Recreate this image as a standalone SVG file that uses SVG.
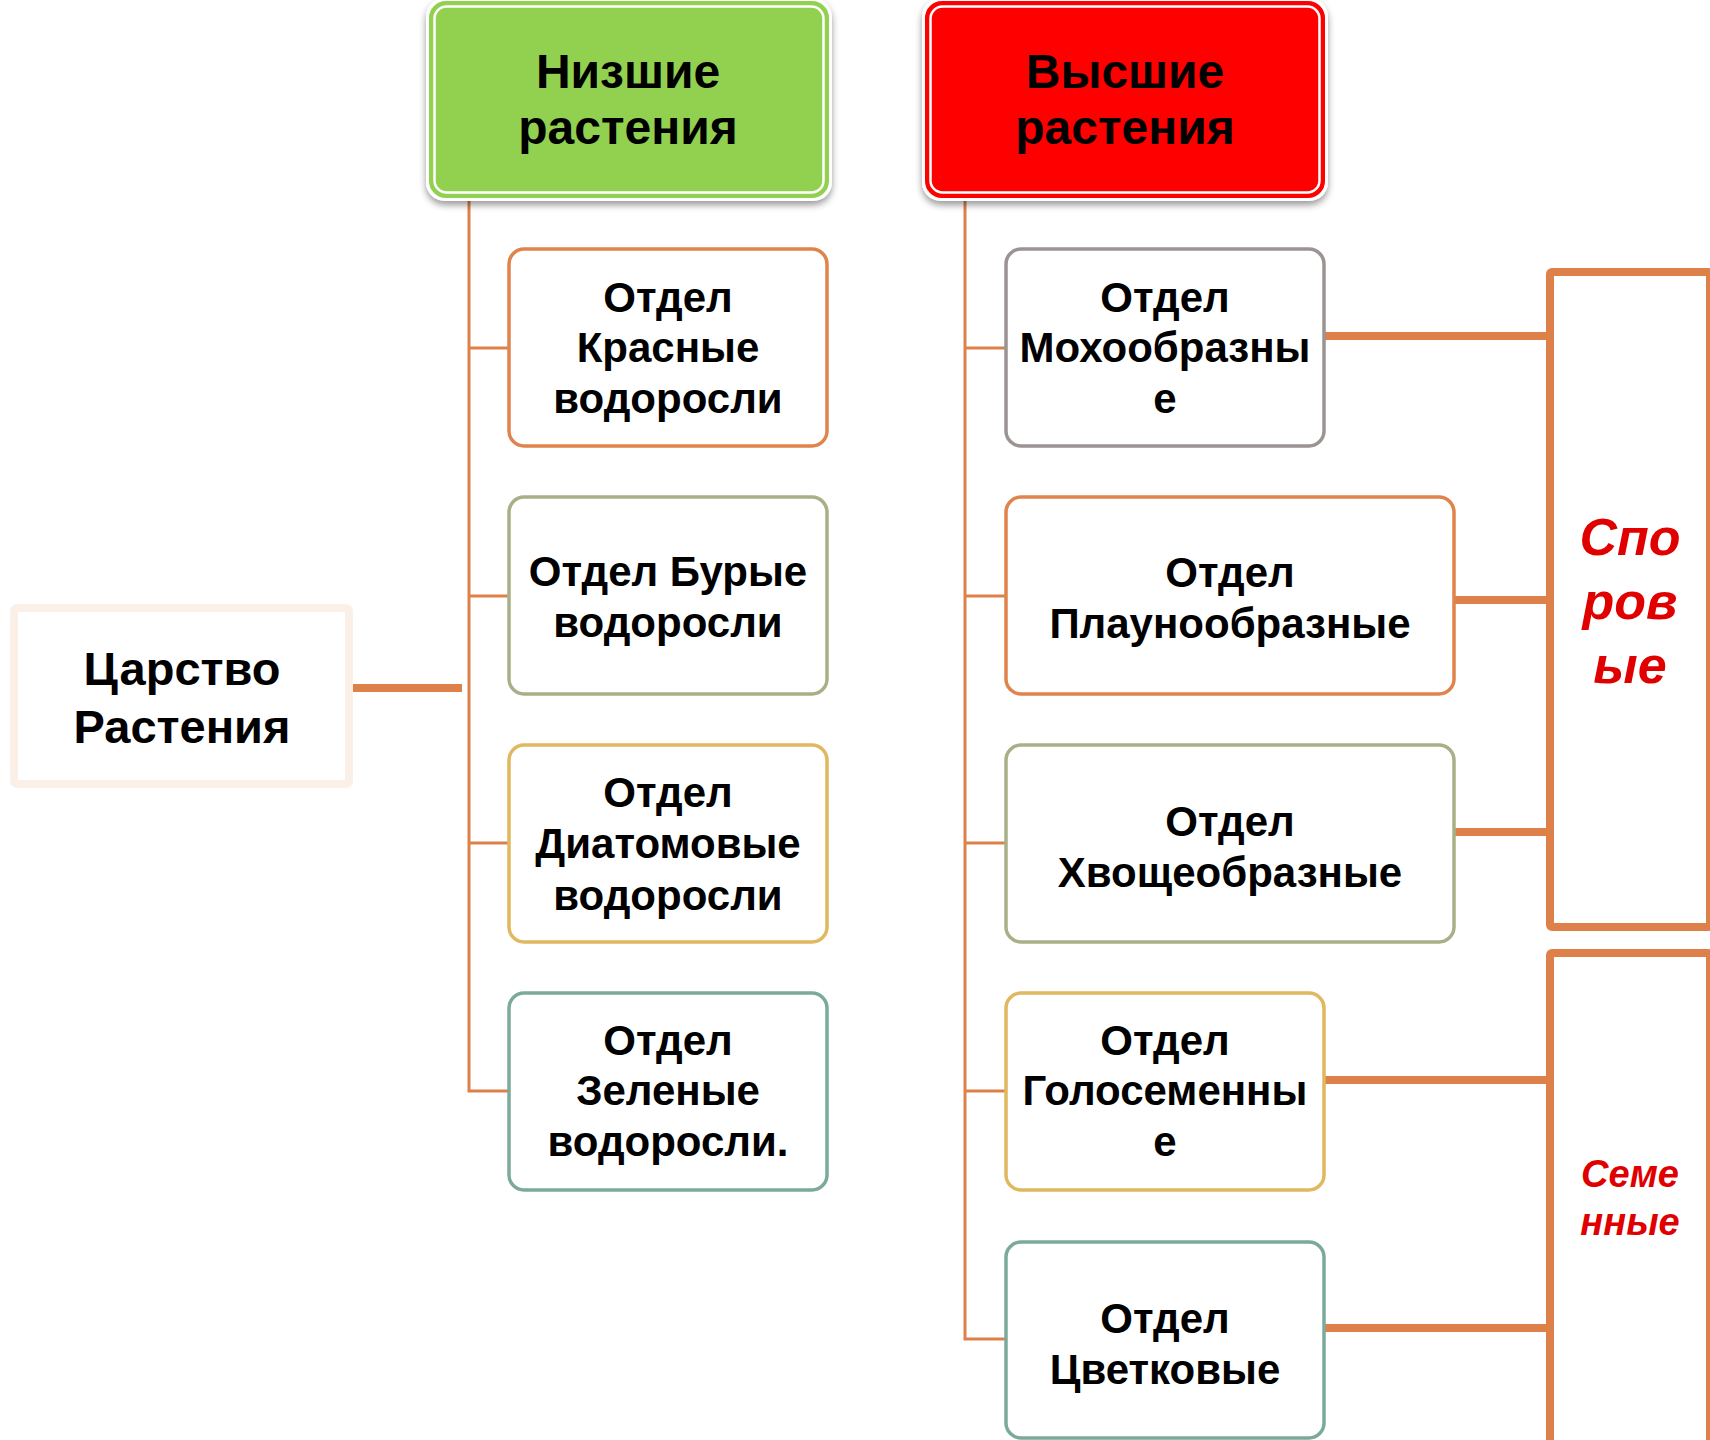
<svg xmlns="http://www.w3.org/2000/svg" width="1710" height="1440" viewBox="0 0 1710 1440">
<style>
  .t { font-family: "Liberation Sans", Arial, sans-serif; font-weight: bold; fill: #000; text-anchor: middle; }
  .t42 { font-size: 42px; }
  .t48 { font-size: 48px; }
  .t47 { font-size: 47px; }
  .red { font-family: "Liberation Sans", Arial, sans-serif; font-weight: bold; font-style: italic; fill: #E00000; text-anchor: middle; }
  .box { fill: #fff; stroke-width: 3.5; }
  .thin { stroke: #DE8049; stroke-width: 3; fill: none; }
  .thick { stroke: #DE8049; stroke-width: 8; fill: none; }
  .bracket { fill: #fff; stroke: #DE8049; stroke-width: 8; }
  .halo { fill: #fff; filter: url(#sh); }
</style>
<defs>
  <filter id="sh" x="-10%" y="-15%" width="120%" height="140%">
    <feDropShadow dx="0" dy="4" stdDeviation="3.5" flood-color="#000" flood-opacity="0.4"/>
  </filter>
</defs>
<rect width="1710" height="1440" fill="#fff"/>

<g id="connectors">
  <line class="thick" x1="349" y1="688" x2="462" y2="688"/>
  <polyline class="thin" points="469,200 469,1091 508,1091"/>
  <line class="thin" x1="469" y1="348" x2="508" y2="348"/>
  <line class="thin" x1="469" y1="596" x2="508" y2="596"/>
  <line class="thin" x1="469" y1="843" x2="508" y2="843"/>
  <polyline class="thin" points="965,200 965,1339 1006,1339"/>
  <line class="thin" x1="965" y1="348" x2="1006" y2="348"/>
  <line class="thin" x1="965" y1="596" x2="1006" y2="596"/>
  <line class="thin" x1="965" y1="843" x2="1006" y2="843"/>
  <line class="thin" x1="965" y1="1091" x2="1006" y2="1091"/>
  <line class="thick" x1="1325" y1="336" x2="1550" y2="336"/>
  <line class="thick" x1="1455" y1="600" x2="1550" y2="600"/>
  <line class="thick" x1="1455" y1="832" x2="1550" y2="832"/>
  <line class="thick" x1="1325" y1="1080" x2="1550" y2="1080"/>
  <line class="thick" x1="1325" y1="1328" x2="1550" y2="1328"/>
</g>

<g id="kingdom">
  <rect x="14" y="608" width="335" height="176" rx="3" fill="#fff" stroke="#FBF0E8" stroke-width="8"/>
  <text class="t t47" x="182" y="685">Царство</text>
  <text class="t t47" x="182" y="743">Растения</text>
</g>

<g id="lower">
  <rect class="halo" x="426" y="-2" width="406" height="203" rx="19"/>
  <rect x="430" y="2" width="398" height="195" rx="16" fill="#92D050" stroke="#92D050" stroke-width="2"/>
  <rect x="434.5" y="6.5" width="389" height="186" rx="12" fill="none" stroke="#fff" stroke-width="2.5"/>
  <text class="t t48" x="628" y="88">Низшие</text>
  <text class="t t48" x="628" y="144">растения</text>
</g>

<g id="higher">
  <rect class="halo" x="922" y="-2" width="406" height="203" rx="19"/>
  <rect x="926" y="2" width="398" height="195" rx="16" fill="#FF0000" stroke="#FF0000" stroke-width="2"/>
  <rect x="930.5" y="6.5" width="389" height="186" rx="12" fill="none" stroke="#fff" stroke-width="2.5"/>
  <text class="t t48" x="1125" y="88">Высшие</text>
  <text class="t t48" x="1125" y="144">растения</text>
</g>

<g id="red-algae">
  <rect class="box" x="509" y="249" width="318" height="197" rx="15" stroke="#E0844C"/>
  <text class="t t42" x="668" y="312">Отдел</text>
  <text class="t t42" x="668" y="362">Красные</text>
  <text class="t t42" x="668" y="413">водоросли</text>
</g>

<g id="brown-algae">
  <rect class="box" x="509" y="497" width="318" height="197" rx="15" stroke="#A8B088"/>
  <text class="t t42" x="668" y="586">Отдел Бурые</text>
  <text class="t t42" x="668" y="637">водоросли</text>
</g>

<g id="diatoms">
  <rect class="box" x="509" y="745" width="318" height="197" rx="15" stroke="#E0B860"/>
  <text class="t t42" x="668" y="807">Отдел</text>
  <text class="t t42" x="668" y="858">Диатомовые</text>
  <text class="t t42" x="668" y="910">водоросли</text>
</g>

<g id="green-algae">
  <rect class="box" x="509" y="993" width="318" height="197" rx="15" stroke="#7BAA9C"/>
  <text class="t t42" x="668" y="1055">Отдел</text>
  <text class="t t42" x="668" y="1105">Зеленые</text>
  <text class="t t42" x="668" y="1156">водоросли.</text>
</g>

<g id="mosses">
  <rect class="box" x="1006" y="249" width="318" height="197" rx="15" stroke="#9C9393"/>
  <text class="t t42" x="1165" y="312">Отдел</text>
  <text class="t t42" x="1165" y="362">Мохообразны</text>
  <text class="t t42" x="1165" y="413">е</text>
</g>

<g id="lycopods">
  <rect class="box" x="1006" y="497" width="448" height="197" rx="15" stroke="#E0844C"/>
  <text class="t t42" x="1230" y="587">Отдел</text>
  <text class="t t42" x="1230" y="638">Плаунообразные</text>
</g>

<g id="horsetails">
  <rect class="box" x="1006" y="745" width="448" height="197" rx="15" stroke="#A8B088"/>
  <text class="t t42" x="1230" y="836">Отдел</text>
  <text class="t t42" x="1230" y="887">Хвощеобразные</text>
</g>

<g id="gymnosperms">
  <rect class="box" x="1006" y="993" width="318" height="197" rx="15" stroke="#E0B860"/>
  <text class="t t42" x="1165" y="1055">Отдел</text>
  <text class="t t42" x="1165" y="1105">Голосеменны</text>
  <text class="t t42" x="1165" y="1156">е</text>
</g>

<g id="flowering">
  <rect class="box" x="1006" y="1242" width="318" height="196" rx="15" stroke="#7BAA9C"/>
  <text class="t t42" x="1165" y="1333">Отдел</text>
  <text class="t t42" x="1165" y="1384">Цветковые</text>
</g>

<g id="spore">
  <rect class="bracket" x="1550" y="272" width="160" height="655" rx="2"/>
  <text class="red" font-size="52" x="1630" y="555">Спо</text>
  <text class="red" font-size="52" x="1630" y="619">ров</text>
  <text class="red" font-size="52" x="1630" y="683">ые</text>
</g>

<g id="seed">
  <rect class="bracket" x="1550" y="953" width="160" height="491" rx="2"/>
  <text class="red" font-size="38" x="1630" y="1187">Семе</text>
  <text class="red" font-size="38" x="1630" y="1235">нные</text>
</g>
</svg>
